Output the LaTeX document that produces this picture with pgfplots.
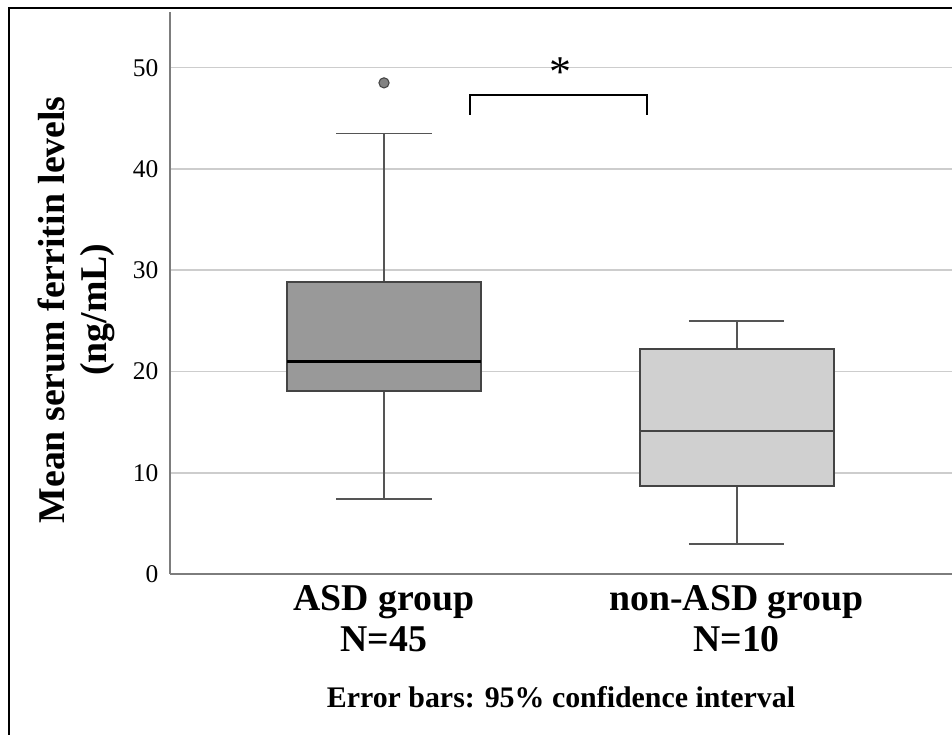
\documentclass[border=0pt]{standalone}
\usepackage{fontspec}
\setmainfont{Liberation Serif}
\usepackage{pgfplots}
\pgfplotsset{compat=1.18}
\usepgfplotslibrary{statistics}

\definecolor{asdfill}{RGB}{153,153,153}
\definecolor{nonfill}{RGB}{208,208,208}
\definecolor{boxedge}{RGB}{68,68,68}
\definecolor{whisk}{RGB}{85,85,85}
\definecolor{gridc}{RGB}{205,205,205}
\definecolor{axisc}{RGB}{125,125,125}

\begin{document}
\begin{tikzpicture}
% canvas: 952 x 735 px, 1px = 0.02cm
\useasboundingbox (0,0) rectangle (19.04,14.7);
\draw[line width=1.3pt] (0.18,0) -- (0.18,14.54) -- (19.04,14.54);

\begin{axis}[
    at={(3.4cm,3.22cm)}, anchor=south west,
    scale only axis,
    width=15.64cm, height=11.24cm,
    xmin=0.393, xmax=2.611,
    ymin=0, ymax=55.5,
    axis x line=bottom, axis y line=left,
    axis line style={draw=axisc, line width=1pt, -},
    xtick={1,2},
    xticklabels={{ASD group\\N=45},{non-ASD group\\N=10}},
    xticklabel style={font=\fontsize{21.5}{23}\selectfont\bfseries, align=center, yshift=-1pt},
    major x tick style={draw=none},
    ytick={0,10,20,30,40,50},
    yticklabel style={font=\fontsize{14.5}{16}\selectfont, xshift=-1pt},
    /pgf/number format/assume math mode=true,
    major y tick style={draw=none},
    ymajorgrids=true,
    grid style={draw=gridc, line width=0.9pt},
    ylabel={Mean serum ferritin levels\\(ng/mL)},
    ylabel style={font=\fontsize{21.5}{24}\selectfont\bfseries, align=center,
        at={(axis description cs:-0.12,0.47)}, anchor=center, rotate=0},
    boxplot/draw direction=y,
    boxplot/every box/.style={draw=boxedge, line width=1.1pt},
    boxplot/every whisker/.style={draw=whisk, line width=1.1pt},
    clip=false,
]

% ASD group
\addplot+[
    boxplot prepared={
        lower whisker=7.4, lower quartile=18.1, median=21.0,
        upper quartile=28.85, upper whisker=43.5,
        draw position=1, box extend=0.55, whisker extend=0.27,
        every median/.style={draw=black, line width=1.6pt},
    },
    fill=asdfill, draw=boxedge, solid,
    mark=*, mark size=2.9pt,
    mark options={fill=asdfill!85!black, draw=boxedge, line width=0.6pt},
] table[row sep=\\, y index=0] {data\\ 48.5\\};

% non-ASD group
\addplot+[
    boxplot prepared={
        lower whisker=3.0, lower quartile=8.7, median=14.1,
        upper quartile=22.2, upper whisker=25.0,
        draw position=2, box extend=0.55, whisker extend=0.27,
        every median/.style={draw=boxedge, line width=1.4pt},
    },
    fill=nonfill, draw=boxedge, solid,
] coordinates {};

% significance bracket
\draw[black, line width=1.1pt] (axis cs:1.244,45.35) -- (axis cs:1.244,47.3)
    -- (axis cs:1.746,47.3) -- (axis cs:1.746,45.35);
\node[font=\fontsize{25}{25}\selectfont] at (axis cs:1.5,49.6) {*};
\end{axis}

\node[font=\fontsize{17}{20}\selectfont\bfseries] at (11.22,0.76)
    {Error bars: 95\% confidence interval};
\end{tikzpicture}
\end{document}
